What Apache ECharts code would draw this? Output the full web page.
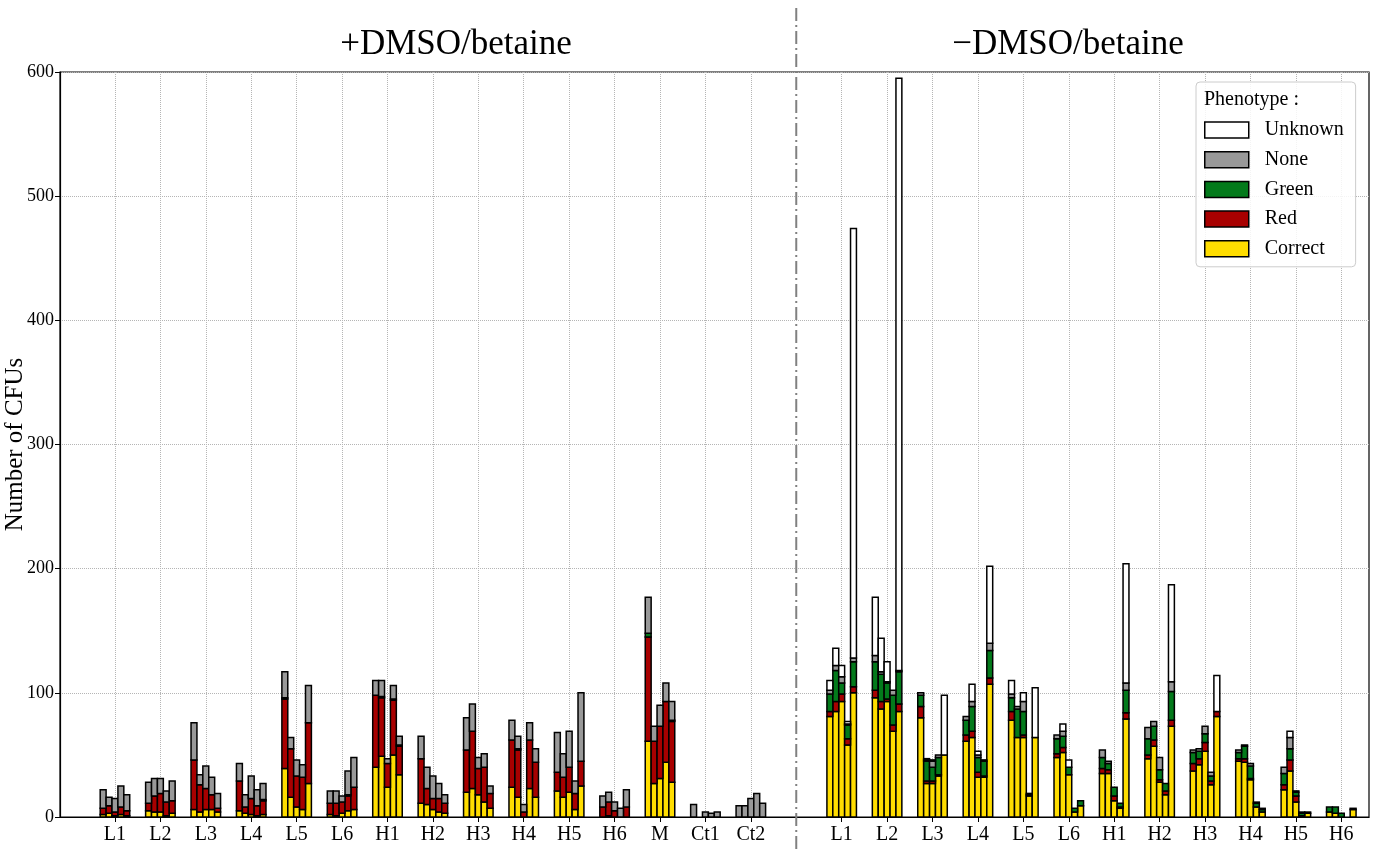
<!DOCTYPE html>
<html><head><meta charset="utf-8">
<script src="https://cdn.jsdelivr.net/npm/echarts@6/dist/echarts.min.js"></script>
<style>html,body{margin:0;padding:0;background:#fff}#c{width:1373px;height:852px}</style>
</head><body><div id="c"></div>
<script>
// ---- data ----
const leftGroups = ['L1','L2','L3','L4','L5','L6','H1','H2','H3','H4','H5','H6','M','Ct1','Ct2'];
const rightGroups = ['L1','L2','L3','L4','L5','L6','H1','H2','H3','H4','H5','H6'];
const yTicks = [0,100,200,300,400,500,600];
const phenotypes = ['Correct','Red','Green','None','Unknown'];
// segment heights, 5 replicate bars per group: left groups then right groups
const correct = [
 [2,3,1,2,1],[5,4,4,1,3],[6,4,6,6,4],[5,3,2,1,2],[39,16,8,6,27],[2,1,3,5,6],
 [40,49,24,50,34],[11,10,6,4,3],[20,23,18,12,7],[24,16,0,23,16],[21,16,20,6,25],[0,1,0,0,0],
 [61,27,31,44,28],[0,0,0,0,0],[0,0,0,0,0],
 [81,85,93,58,100],[96,87,93,69,85],[80,27,27,33,50],[61,64,32,32,107],[78,64,64,17,64],[48,52,34,4,9],
 [35,35,13,7,79],[47,57,28,18,73],[37,42,53,26,81],[45,44,30,8,4],[22,37,12,1,3],[4,3,0,0,6]
];
const red = [
 [5,6,3,6,4],[6,13,15,11,10],[40,22,17,12,3],[24,5,13,8,11],[56,39,25,26,49],[9,10,9,12,18],
 [58,47,19,44,23],[36,13,9,11,8],[34,46,21,28,12],[38,38,4,39,28],[15,16,20,13,20],[8,11,5,0,8],
 [84,34,42,49,49],[0,0,0,0,0],[0,0,0,0,0],
 [4,8,6,5,5],[6,6,2,5,6],[9,2,2,1,0],[5,5,4,1,5],[7,0,2,0,0],[3,4,0,0,0],
 [4,3,4,1,5],[3,5,2,3,5],[6,5,7,3,4],[2,3,1,0,0],[4,9,5,0,0],[0,0,0,0,0]
];
const green = [
 [0,0,0,0,0],[0,0,0,0,0],[0,0,0,0,0],[0,0,0,0,1],[1,0,0,0,0],[0,0,0,1,0],
 [0,1,0,1,1],[0,0,0,0,0],[0,0,0,0,0],[0,1,0,0,0],[0,0,0,0,0],[0,0,0,0,0],
 [3,0,0,0,1],[0,0,0,0,0],[0,0,0,0,0],
 [14,25,9,11,20],[23,22,13,24,26],[9,16,11,14,0],[12,20,12,12,22],[11,23,19,1,0],[12,9,6,3,4],
 [9,5,7,3,18],[13,11,8,6,23],[9,6,7,4,0],[5,10,10,3,2],[9,9,3,2,1],[4,5,3,0,1]
];
const none = [
 [15,7,11,17,13],[17,14,12,9,16],[30,8,18,14,12],[14,10,18,13,13],[21,9,13,10,30],[10,10,5,19,24],
 [12,13,4,11,7],[18,17,18,12,7],[26,22,9,11,6],[16,10,6,14,11],[32,19,29,10,55],[9,8,7,7,14],
 [29,12,17,15,15],[10,0,4,3,4],[9,9,15,19,11],
 [3,4,5,1,3],[5,2,1,4,1],[2,1,5,2,0],[3,4,2,1,6],[3,2,8,1,0],[3,4,0,0,0],
 [6,2,0,0,6],[9,4,10,0,8],[2,2,6,3,0],[2,1,2,1,1],[5,9,1,1,0],[0,0,0,0,0]
];
const unknown = [
 [0,0,0,0,0],[0,0,0,0,0],[0,0,0,0,0],[0,0,0,0,0],[0,0,0,0,0],[0,0,0,0,0],
 [0,0,0,0,0],[0,0,0,0,0],[0,0,0,0,0],[0,0,0,0,0],[0,0,0,0,0],[0,0,0,0,0],
 [0,0,0,0,0],[0,0,0,0,0],[0,0,0,0,0],
 [8,14,9,2,346],[47,27,16,0,477],[0,1,1,0,48],[0,14,3,0,62],[11,0,7,0,40],[0,6,6,0,0],
 [0,0,0,0,96],[0,0,0,0,78],[0,0,0,0,29],[0,0,0,0,0],[0,5,0,0,0],[0,0,0,0,0]
];

// ---- layout / style ----
const FONT = '"Liberation Serif", "Times New Roman", serif';
const colors = {Correct:'#FFDD00', Red:'#A80000', Green:'#037A1B', None:'#999999', Unknown:'#FFFFFF'};
const BAR_W = 0.13;
const DIVIDER = leftGroups.length;             // position of the dash-dot separator
const groupPos = [];
leftGroups.forEach((g,i)=>groupPos.push(i));
rightGroups.forEach((g,j)=>groupPos.push(DIVIDER + 1 + j));
const allLabels = leftGroups.concat(rightGroups);
const labelAt = {};
groupPos.forEach((p,i)=>labelAt[p]=allLabels[i]);

const segs = {Correct:correct, Red:red, Green:green, None:none, Unknown:unknown};
const seriesData = {};
phenotypes.forEach(p=>seriesData[p]=[]);
groupPos.forEach((pos,gi)=>{
  for(let k=0;k<5;k++){
    const x = pos + (k-2)*BAR_W;
    let base = 0;
    phenotypes.forEach(p=>{
      const h = segs[p][gi][k];
      if(h>0) seriesData[p].push([x, base, base+h]);
      base += h;
    });
  }
});

function renderItem(params, api){
  const x = api.value(0), y0 = api.value(1), y1 = api.value(2);
  const p0 = api.coord([x - BAR_W/2, y0]);
  const p1 = api.coord([x + BAR_W/2, y1]);
  return {type:'rect',
    shape:{x:p0[0], y:p1[1], width:p1[0]-p0[0], height:p0[1]-p1[1]},
    style:{fill:api.visual('color'), stroke:'#000', lineWidth:1.5}};
}

const chart = echarts.init(document.getElementById('c'), null, {renderer:'canvas'});
const texts = [
  {type:'text', x:456, y:45, z:100, style:{text:'+DMSO/betaine', font:'35px '+FONT, fill:'#000', textAlign:'center', textVerticalAlign:'middle'}},
  {type:'text', x:1068, y:45, z:100, style:{text:'\u2212DMSO/betaine', font:'35px '+FONT, fill:'#000', textAlign:'center', textVerticalAlign:'middle'}},
  {type:'text', x:1204, y:100, z:100, style:{text:'Phenotype :', font:'20px '+FONT, fill:'#000', textAlign:'left', textVerticalAlign:'middle'}}
];
const option = {
  animation:false,
  backgroundColor:'#fff',
  grid:{left:60, right:4, top:72, bottom:35, containLabel:false, outerBoundsMode:'none', show:true, borderColor:'#000', borderWidth:1.2, backgroundColor:'transparent'},
  xAxis:{
    type:'value', min:-1.21, max:27.61,
    axisLine:{show:true, onZero:false, lineStyle:{color:'#000', width:1.2}},
    axisTick:{show:true, customValues:groupPos, length:5, inside:false, lineStyle:{color:'#000', width:1}},
    axisLabel:{show:true, customValues:groupPos, formatter:v=>labelAt[Math.round(v)]||'', color:'#000', fontFamily:FONT, fontSize:20, margin:8},
    splitLine:{show:true, lineStyle:{type:'dotted', color:'#b5b5b5', width:1}}
  },
  yAxis:{
    type:'value', min:yTicks[0], max:yTicks[yTicks.length-1], interval:100,
    name:'Number of CFUs', nameLocation:'middle', nameGap:32, nameRotate:90, nameMoveOverlap:false,
    nameTextStyle:{color:'#000', fontFamily:FONT, fontSize:25},
    axisLine:{show:true, onZero:false, lineStyle:{color:'#000', width:1.2}},
    axisTick:{show:true, length:5, lineStyle:{color:'#000', width:1}},
    axisLabel:{color:'#000', fontFamily:FONT, fontSize:18, margin:6},
    splitLine:{show:true, lineStyle:{type:'dotted', color:'#b5b5b5', width:1}}
  },
  legend:{
    orient:'vertical', left:1196, top:82, selectedMode:false,
    data:['Unknown','None','Green','Red','Correct'],
    icon:'rect', itemWidth:44, itemHeight:16, itemGap:9.7,
    padding:[38,12,8,8],
    backgroundColor:'rgba(255,255,255,0.85)', borderColor:'#cccccc', borderWidth:1, borderRadius:4,
    textStyle:{color:'#000', fontFamily:FONT, fontSize:20, lineHeight:16, padding:[0,0,0,11]},
    itemStyle:{borderColor:'#000', borderWidth:1.5}
  },
  series: phenotypes.map(p=>({
    name:p, type:'custom', renderItem, clip:true,
    itemStyle:{color:colors[p], borderColor:'#000', borderWidth:1.5},
    encode:{x:0, y:[1,2]},
    data:seriesData[p]
  })),
  graphic:texts
};
chart.setOption(option);
const px = chart.convertToPixel({xAxisIndex:0}, DIVIDER);
chart.setOption({graphic:texts.concat([
  {type:'line', z:50, shape:{x1:px, y1:8, x2:px, y2:852}, style:{stroke:'#808080', lineWidth:2, lineDash:[13,4,2,4]}}
])});
</script></body></html>
